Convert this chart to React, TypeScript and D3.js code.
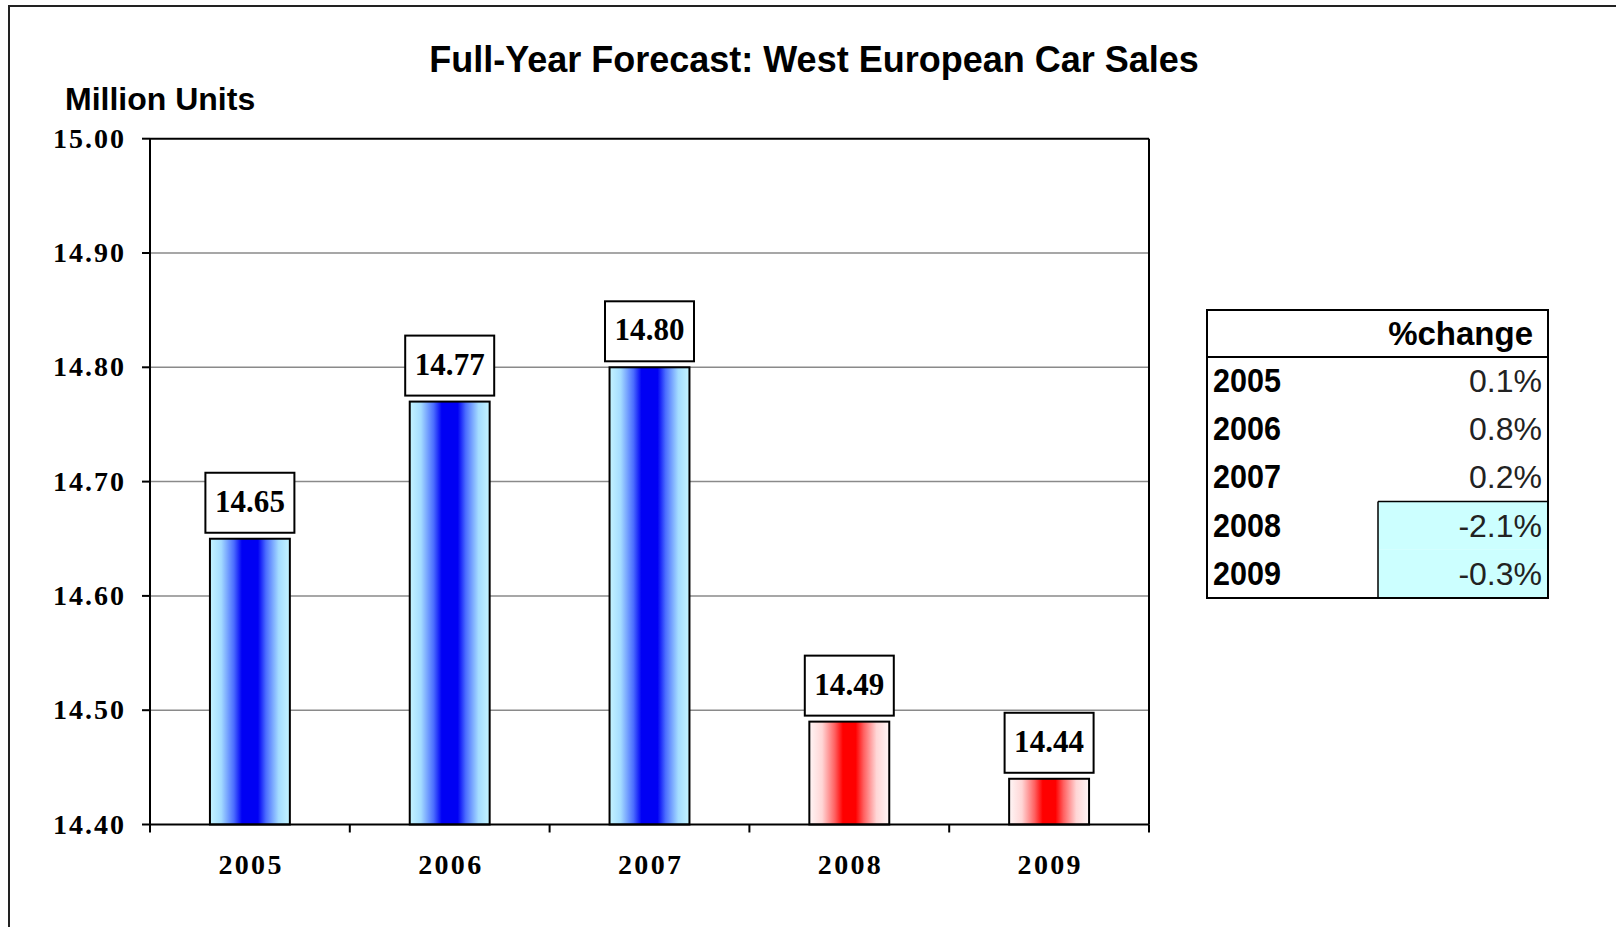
import React from "react";
import * as d3 from "d3";

const years = ["2005", "2006", "2007", "2008", "2009"];
const sales = [14.65, 14.77, 14.8, 14.49, 14.44];
const pctChange = [0.1, 0.8, 0.2, -2.1, -0.3];
const yTicks = [14.4, 14.5, 14.6, 14.7, 14.8, 14.9, 15.0];
const title = "Full-Year Forecast: West European Car Sales";
const yTitle = "Million Units";
const tableHeader = "%change";

const W = 1616;
const H = 927;
const plot = { left: 150, right: 1149, top: 138.7, bottom: 824.5 };

export default function App() {
  const x = d3
    .scaleBand<string>()
    .domain(years)
    .range([plot.left, plot.right])
    .paddingInner(0.6)
    .paddingOuter(0.3);
  const y = d3.scaleLinear().domain([14.4, 15.0]).range([plot.bottom, plot.top]);
  const step = x.step();
  const bw = x.bandwidth();
  const serif = "'Liberation Serif', 'Times New Roman', serif";
  const sans = "'Liberation Sans', Arial, sans-serif";

  const tbl = { left: 1207, right: 1548, top: 310, headerBottom: 357, bottom: 598 };
  const rowH = (tbl.bottom - tbl.headerBottom) / years.length;
  const valueCol = 1378;
  const fmtPct = (v: number) => `${v.toFixed(1)}%`;

  const boxW = 89;
  const boxH = 60;

  const firstNeg = pctChange.findIndex((v) => v < 0);

  return (
    <svg
      width={W}
      height={H}
      style={{ position: "absolute", left: 0, top: 0, background: "#fff" }}
    >
      <defs>
        <linearGradient id="gBlue" x1="0" x2="1" y1="0" y2="0">
          <stop offset="0" stopColor="#c4f4ff" />
          <stop offset="0.14" stopColor="#a4dcff" />
          <stop offset="0.3" stopColor="#4a6cff" />
          <stop offset="0.4" stopColor="#0000f4" />
          <stop offset="0.6" stopColor="#0000f4" />
          <stop offset="0.7" stopColor="#4a6cff" />
          <stop offset="0.86" stopColor="#a4dcff" />
          <stop offset="1" stopColor="#c4f4ff" />
        </linearGradient>
        <linearGradient id="gRed" x1="0" x2="1" y1="0" y2="0">
          <stop offset="0" stopColor="#fff6f6" />
          <stop offset="0.16" stopColor="#ffd6d6" />
          <stop offset="0.32" stopColor="#ff6060" />
          <stop offset="0.42" stopColor="#ff0000" />
          <stop offset="0.58" stopColor="#ff0000" />
          <stop offset="0.68" stopColor="#ff6060" />
          <stop offset="0.84" stopColor="#ffd6d6" />
          <stop offset="1" stopColor="#fff6f6" />
        </linearGradient>
      </defs>

      {/* outer chart border (extends past the window) */}
      <rect x={9} y={6} width={1800} height={1200} fill="none" stroke="#222" strokeWidth={2} />

      {/* title */}
      <text
        x={814}
        y={72}
        textAnchor="middle"
        fontFamily={sans}
        fontWeight="bold"
        fontSize={36}
        fill="#000"
      >
        {title}
      </text>
      <text x={65} y={110} fontFamily={sans} fontWeight="bold" fontSize={32} fill="#000">
        {yTitle}
      </text>

      {/* gridlines */}
      {yTicks
        .filter((t) => t > 14.4 && t < 15.0)
        .map((t) => (
          <line
            key={`g${t}`}
            x1={plot.left}
            x2={plot.right}
            y1={y(t)}
            y2={y(t)}
            stroke="#8a8a8a"
            strokeWidth={1.5}
          />
        ))}

      {/* plot frame */}
      <line x1={plot.left} x2={plot.right} y1={plot.top} y2={plot.top} stroke="#000" strokeWidth={2} />
      <line x1={plot.right} x2={plot.right} y1={plot.top} y2={plot.bottom} stroke="#000" strokeWidth={2} />
      <line x1={plot.left} x2={plot.left} y1={plot.top} y2={plot.bottom} stroke="#000" strokeWidth={2} />

      {/* y ticks & labels */}
      {yTicks.map((t) => (
        <g key={`t${t}`}>
          <line x1={plot.left - 8} x2={plot.left} y1={y(t)} y2={y(t)} stroke="#000" strokeWidth={2} />
          <text
            x={124}
            y={y(t) + 9}
            textAnchor="end"
            fontFamily={serif}
            fontWeight="bold"
            fontSize={28}
            textLength={71}
            lengthAdjust="spacing"
            fill="#000"
          >
            {t.toFixed(2)}
          </text>
        </g>
      ))}

      {/* bars */}
      {years.map((yr, i) => {
        const x0 = x(yr) as number;
        const top = y(sales[i]);
        return (
          <rect
            key={`b${yr}`}
            x={x0}
            y={top}
            width={bw}
            height={plot.bottom - top}
            fill={pctChange[i] < 0 ? "url(#gRed)" : "url(#gBlue)"}
            stroke="#000"
            strokeWidth={2}
          />
        );
      })}

      {/* x axis */}
      <line x1={plot.left} x2={plot.right} y1={plot.bottom} y2={plot.bottom} stroke="#000" strokeWidth={2} />
      {d3.range(years.length + 1).map((k) => (
        <line
          key={`xt${k}`}
          x1={plot.left + k * step}
          x2={plot.left + k * step}
          y1={plot.bottom}
          y2={plot.bottom + 8}
          stroke="#000"
          strokeWidth={2}
        />
      ))}
      {years.map((yr) => (
        <text
          key={`xl${yr}`}
          x={(x(yr) as number) + bw / 2}
          y={874}
          textAnchor="middle"
          fontFamily={serif}
          fontWeight="bold"
          fontSize={28}
          textLength={63}
          lengthAdjust="spacing"
          fill="#000"
        >
          {yr}
        </text>
      ))}

      {/* value labels */}
      {years.map((yr, i) => {
        const cx = (x(yr) as number) + bw / 2;
        const bottom = y(sales[i]) - 6;
        const top = bottom - boxH;
        return (
          <g key={`v${yr}`}>
            <rect
              x={cx - boxW / 2}
              y={top}
              width={boxW}
              height={boxH}
              fill="#fff"
              stroke="#000"
              strokeWidth={2}
            />
            <text
              x={cx}
              y={top + 39}
              textAnchor="middle"
              fontFamily={serif}
              fontWeight="bold"
              fontSize={31}
              textLength={70}
              lengthAdjust="spacing"
              fill="#000"
            >
              {sales[i].toFixed(2)}
            </text>
          </g>
        );
      })}

      {/* table */}
      {years.map((yr, i) =>
        pctChange[i] < 0 ? (
          <rect
            key={`c${yr}`}
            x={valueCol}
            y={tbl.headerBottom + i * rowH}
            width={tbl.right - valueCol}
            height={rowH}
            fill="#ccffff"
          />
        ) : null
      )}
      {firstNeg >= 0 && (
        <>
          <line
            x1={valueCol}
            x2={valueCol}
            y1={tbl.headerBottom + firstNeg * rowH}
            y2={tbl.bottom}
            stroke="#000"
            strokeWidth={1.5}
          />
          <line
            x1={valueCol}
            x2={tbl.right}
            y1={tbl.headerBottom + firstNeg * rowH}
            y2={tbl.headerBottom + firstNeg * rowH}
            stroke="#000"
            strokeWidth={1.5}
          />
        </>
      )}
      <rect
        x={tbl.left}
        y={tbl.top}
        width={tbl.right - tbl.left}
        height={tbl.bottom - tbl.top}
        fill="none"
        stroke="#000"
        strokeWidth={2}
      />
      <line x1={tbl.left} x2={tbl.right} y1={tbl.headerBottom} y2={tbl.headerBottom} stroke="#000" strokeWidth={2} />
      <text
        x={1533}
        y={345}
        textAnchor="end"
        fontFamily={sans}
        fontWeight="bold"
        fontSize={33}
        fill="#000"
      >
        {tableHeader}
      </text>
      {years.map((yr, i) => (
        <g key={`r${yr}`}>
          <text
            x={1213}
            y={tbl.headerBottom + i * rowH + 35}
            fontFamily={sans}
            fontWeight="bold"
            fontSize={33}
            textLength={68}
            lengthAdjust="spacingAndGlyphs"
            fill="#000"
          >
            {yr}
          </text>
          <text
            x={1542}
            y={tbl.headerBottom + i * rowH + 35}
            textAnchor="end"
            fontFamily={sans}
            fontSize={32}
            fill="#222"
          >
            {fmtPct(pctChange[i])}
          </text>
        </g>
      ))}
    </svg>
  );
}
